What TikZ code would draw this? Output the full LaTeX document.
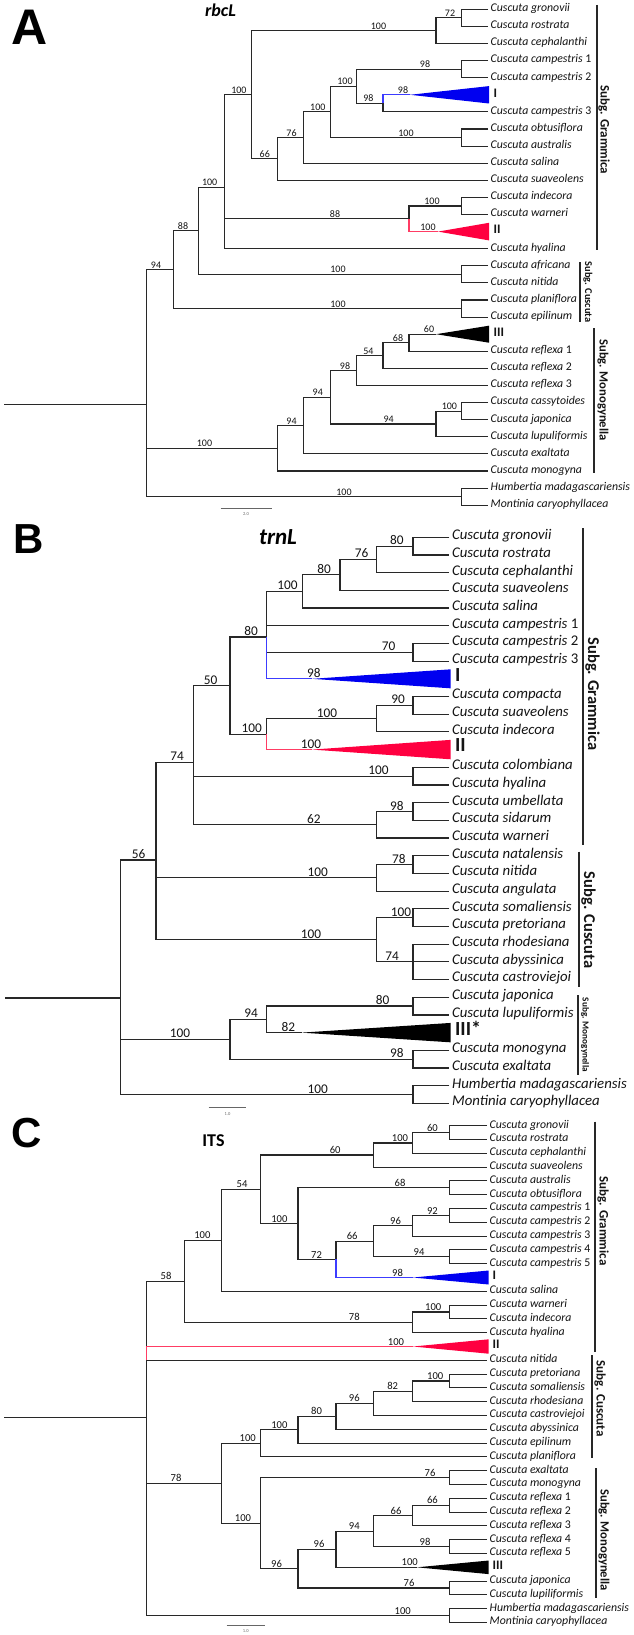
\documentclass[tikz,border=0pt]{standalone}
\usepackage{fontspec}
\setmainfont{Carlito}
\newfontfamily\letfont{Liberation Sans}
\usetikzlibrary{calc}
\definecolor{cblue}{RGB}{0,0,240}
\definecolor{cred}{RGB}{255,0,64}
\definecolor{lblue}{RGB}{60,60,255}
\definecolor{lred}{RGB}{255,60,100}
\definecolor{tcol}{RGB}{20,20,20}
\definecolor{lcol}{RGB}{40,40,40}
\newcommand\tnII[4]{%
  \path let \p1=(#3), \p2=(#4) in coordinate (#1) at (#2pt,{(\y1+\y2)/2});
  \draw[br] (#3) -- (#1 |- #3) -- (#1 |- #4) -- (#4);}
\newcommand\tnIII[5]{%
  \path let \p1=(#3), \p2=(#4), \p3=(#5) in coordinate (#1) at (#2pt,{(\y1+\y2+\y3)/3});
  \draw[br] (#3) -- (#1 |- #3) -- (#1 |- #5) -- (#5) (#1 |- #4) -- (#4);}
\newcommand\tnIV[6]{%
  \path let \p1=(#3), \p2=(#4), \p3=(#5), \p4=(#6) in coordinate (#1) at (#2pt,{(\y1+\y2+\y3+\y4)/4});
  \draw[br] (#3) -- (#1 |- #3) -- (#1 |- #6) -- (#6) (#1 |- #4) -- (#4) (#1 |- #5) -- (#5);}
\newcommand\tnV[7]{%
  \path let \p1=(#3), \p2=(#4), \p3=(#5), \p4=(#6), \p5=(#7) in coordinate (#1) at (#2pt,{(\y1+\y2+\y3+\y4+\y5)/5});
  \draw[br] (#3) -- (#1 |- #3) -- (#1 |- #7) -- (#7) (#1 |- #4) -- (#4) (#1 |- #5) -- (#5) (#1 |- #6) -- (#6);}
\newcommand\bsl[4]{\node[#1] (s#3) at (#2,0 |- #3) {#4};}
\begin{document}
\begin{tikzpicture}[x=1pt,y=-1pt,
  br/.style={line width=1.1pt,draw=lcol},
  txA/.style={anchor=mid west,inner xsep=2.5pt,inner ysep=0pt,text=tcol,font=\fontsize{11.8}{12}\selectfont\itshape},
  trA/.style={anchor=mid west,inner xsep=2.5pt,inner ysep=0pt,xshift=3pt,text=tcol,font=\fontsize{13}{13}\selectfont\bfseries},
  txB/.style={txA,font=\fontsize{14.8}{15}\selectfont\itshape},
  trB/.style={trA,font=\fontsize{20}{20}\selectfont\bfseries},
  txC/.style={txA},
  trC/.style={trA},
  bsA/.style={anchor=south,inner sep=1.2pt,text=tcol,font=\fontsize{10}{10}\selectfont},
  bsB/.style={bsA,font=\fontsize{13.3}{13}\selectfont},
  bsC/.style={bsA,font=\fontsize{10.6}{10}\selectfont},
  panlet/.style={anchor=base west,inner sep=0pt,font=\letfont\fontsize{42}{42}\bfseries\selectfont},
  gene/.style={anchor=base,inner sep=0pt,font=\bfseries\itshape},
  subg/.style={rotate=-90,inner sep=0pt,text=tcol,font=\bfseries},
  sgbar/.style={line width=1.2pt,draw=lcol},
  sbar/.style={line width=0.8pt,draw=black!60},
  sblab/.style={inner sep=0pt,text=black!60,font=\fontsize{4.5}{5}\selectfont},
  bline/.style={line width=1.1pt,draw=lblue},
  rline/.style={line width=1.1pt,draw=lred}]
\fill[white] (0,0) rectangle (633,1635);
\useasboundingbox (0,0) rectangle (633,1635);

%================ PANEL A =================
\node[panlet,font=\letfont\fontsize{50}{50}\bfseries\selectfont] (LA) at (11,45) {A};
\node[gene,font=\fontsize{18}{18}\bfseries\itshape\selectfont] (gA) at (220.5,16.5) {rbcL};
\foreach \sty/\txt [count=\i from 0] in {
txA/Cuscuta gronovii, txA/Cuscuta rostrata, txA/Cuscuta cephalanthi,
txA/Cuscuta campestris \textup{1}, txA/Cuscuta campestris \textup{2}, trA/I,
txA/Cuscuta campestris \textup{3}, txA/Cuscuta obtusiflora, txA/Cuscuta australis,
txA/Cuscuta salina, txA/Cuscuta suaveolens, txA/Cuscuta indecora, txA/Cuscuta warneri,
trA/II, txA/Cuscuta hyalina, txA/Cuscuta africana, txA/Cuscuta nitida,
txA/Cuscuta planiflora, txA/Cuscuta epilinum, trA/III, txA/Cuscuta reflexa \textup{1},
txA/Cuscuta reflexa \textup{2}, txA/Cuscuta reflexa \textup{3}, txA/Cuscuta cassytoides,
txA/Cuscuta japonica, txA/Cuscuta lupuliformis, txA/Cuscuta exaltata,
txA/Cuscuta monogyna, txA/Humbertia madagascariensis, txA/Montinia caryophyllacea}
{\node[\sty] (a\i) at (488,9.3+17.1*\i) {\txt};}
\coordinate (tAI) at (410,0 |- a5.mid west);
\fill[cblue] (tAI) -- ++(79,-8.7) -- ++(0,17.4) -- cycle;
\coordinate (tAII) at (438,0 |- a13.mid west);
\fill[cred] (tAII) -- ++(51,-8.8) -- ++(0,17.6) -- cycle;
\coordinate (tAIII) at (436,0 |- a19.mid west);
\fill[black] (tAIII) -- ++(53,-8.5) -- ++(0,17) -- cycle;

\tnII{A72}{461.5}{a0.mid west}{a1.mid west}
\tnII{A100g}{436}{A72}{a2.mid west}
\tnII{A98a}{461.5}{a3.mid west}{a4.mid west}
\tnII{A98b}{383}{tAI}{a6.mid west}
\tnII{A100e}{356.3}{A98a}{A98b}
\tnII{A100o}{461.5}{a7.mid west}{a8.mid west}
\tnII{A100d}{330.8}{A100e}{A100o}
\tnII{A76}{303.6}{A100d}{a9.mid west}
\tnII{A66}{277.7}{A76}{a10.mid west}
\tnII{A100c}{251.8}{A100g}{A66}
\tnII{A100iw}{461.5}{a11.mid west}{a12.mid west}
\tnII{A88b}{409}{A100iw}{tAII}
\tnIII{A100b}{224.7}{A100c}{A88b}{a14.mid west}
\tnII{A100an}{461.5}{a15.mid west}{a16.mid west}
\tnII{A100a}{198.4}{A100b}{A100an}
\tnII{A100pe}{461.5}{a17.mid west}{a18.mid west}
\tnII{A88}{173.3}{A100a}{A100pe}
\tnII{AP}{409}{tAIII}{a20.mid west}
\tnII{AQ}{383}{AP}{a21.mid west}
\tnII{AR}{356.3}{AQ}{a22.mid west}
\tnII{A100cj}{461.5}{a23.mid west}{a24.mid west}
\tnII{Acass}{436}{A100cj}{a25.mid west}
\tnII{AS}{330.8}{AR}{Acass}
\tnII{AT}{303.6}{AS}{a26.mid west}
\tnII{AU}{277.3}{AT}{a27.mid west}
\tnII{AOut}{461.5}{a28.mid west}{a29.mid west}
\tnIII{ARoot}{146.6}{A88}{AU}{AOut}
\coordinate (AStem) at (4,0 |- ARoot);
\draw[br] (AStem) -- (ARoot);
\draw[bline] (A98b) -- (A98b |- tAI) -- (tAI);
\draw[rline] (A88b) -- (A88b |- tAII) -- (tAII);

\bsl{bsA}{450}{A72}{72}
\bsl{bsA}{378.5}{A100g}{100}
\bsl{bsA}{425}{A98a}{98}
\bsl{bsA}{368.4}{A98b}{98}
\bsl{bsA}{403}{tAI}{98}
\bsl{bsA}{345}{A100e}{100}
\bsl{bsA}{406}{A100o}{100}
\bsl{bsA}{317.8}{A100d}{100}
\bsl{bsA}{291.5}{A76}{76}
\bsl{bsA}{264.8}{A66}{66}
\bsl{bsA}{238.9}{A100c}{100}
\bsl{bsA}{432}{A100iw}{100}
\bsl{bsA}{335}{A88b}{88}
\bsl{bsA}{428}{tAII}{100}
\bsl{bsA}{209.7}{A100b}{100}
\bsl{bsA}{338}{A100an}{100}
\bsl{bsA}{183}{A100a}{88}
\bsl{bsA}{338}{A100pe}{100}
\bsl{bsA}{156}{A88}{94}
\bsl{bsA}{398}{AP}{68}
\bsl{bsA}{429}{tAIII}{60}
\bsl{bsA}{368.4}{AQ}{54}
\bsl{bsA}{345}{AR}{98}
\bsl{bsA}{449.4}{A100cj}{100}
\bsl{bsA}{388.7}{Acass}{94}
\bsl{bsA}{317.8}{AS}{94}
\bsl{bsA}{291.5}{AT}{94}
\bsl{bsA}{204.5}{AU}{100}
\bsl{bsA}{344}{AOut}{100}

\draw[sgbar] (597,5) -- (597,250);
\node[subg,font=\fontsize{13}{13}\bfseries\selectfont] (sgA1) at (604,130) {Subg. Grammica};
\draw[sgbar] (580,262) -- (580,322);
\node[subg,font=\fontsize{10.4}{10}\bfseries\selectfont] (sgA2) at (588,292) {Subg. Cuscuta};
\draw[sgbar] (594,328) -- (594,473);
\node[subg,font=\fontsize{12.6}{13}\bfseries\selectfont] (sgA3) at (603,390) {Subg. Monogynella};

\coordinate (sbA1) at (220.6,508); \coordinate (sbA2) at (272,508);
\draw[sbar] (sbA1) -- (sbA2);
\node[sblab] (sbAl) at (246,514) {2.0};

%================ PANEL B =================
\tikzset{br/.style={line width=1.2pt,draw=lcol}}
\node[panlet] (LB) at (13,553) {B};
\node[gene,font=\fontsize{23}{23}\bfseries\itshape\selectfont] (gB) at (278,544) {trnL};
\foreach \sty/\txt [count=\i from 0] in {
txB/Cuscuta gronovii, txB/Cuscuta rostrata, txB/Cuscuta cephalanthi, txB/Cuscuta suaveolens,
txB/Cuscuta salina, txB/Cuscuta campestris \textup{1}, txB/Cuscuta campestris \textup{2},
txB/Cuscuta campestris \textup{3}, trB/I, txB/Cuscuta compacta, txB/Cuscuta suaveolens,
txB/Cuscuta indecora, trB/II, txB/Cuscuta colombiana, txB/Cuscuta hyalina,
txB/Cuscuta umbellata, txB/Cuscuta sidarum, txB/Cuscuta warneri, txB/Cuscuta natalensis,
txB/Cuscuta nitida, txB/Cuscuta angulata, txB/Cuscuta somaliensis, txB/Cuscuta pretoriana,
txB/Cuscuta rhodesiana, txB/Cuscuta abyssinica, txB/Cuscuta castroviejoi,
txB/Cuscuta japonica, txB/Cuscuta lupuliformis, trB/III*, txB/Cuscuta monogyna,
txB/Cuscuta exaltata, txB/Humbertia madagascariensis, txB/Montinia caryophyllacea}
{\node[\sty] (b\i) at (449.4,537.3+17.69*\i) {\txt};}
\coordinate (tBI) at (312,0 |- b8.mid west);
\fill[cblue] (tBI) -- ++(138.6,-9.5) -- ++(0,19) -- cycle;
\coordinate (tBII) at (312,0 |- b12.mid west);
\fill[cred] (tBII) -- ++(138.6,-9.7) -- ++(0,19.4) -- cycle;
\coordinate (tBIII) at (301.6,0 |- b28.mid west);
\fill[black] (tBIII) -- ++(149,-9.7) -- ++(0,19.4) -- cycle;

\tnII{B80a}{413}{b0.mid west}{b1.mid west}
\tnII{B76}{376.5}{B80a}{b2.mid west}
\tnII{B80b}{340}{B76}{b3.mid west}
\tnII{B100a}{302.8}{B80b}{b4.mid west}
\tnII{B70}{413}{b6.mid west}{b7.mid west}
\tnIV{B80c}{266.4}{B100a}{b5.mid west}{B70}{tBI}
\tnII{B90}{413}{b9.mid west}{b10.mid west}
\tnII{B100c}{376.5}{B90}{b11.mid west}
\tnII{B100b}{266.4}{B100c}{tBII}
\tnII{B50}{230}{B80c}{B100b}
\tnII{B100ch}{413}{b13.mid west}{b14.mid west}
\tnII{B98}{413}{b15.mid west}{b16.mid west}
\tnII{B62}{376.5}{B98}{b17.mid west}
\tnIII{B74}{193.5}{B50}{B100ch}{B62}
\tnII{B78}{413}{b18.mid west}{b19.mid west}
\tnII{B100n}{376.5}{B78}{b20.mid west}
\tnII{B100sp}{413}{b21.mid west}{b22.mid west}
\tnIII{B74b}{413}{b23.mid west}{b24.mid west}{b25.mid west}
\tnII{B100s}{376.5}{B100sp}{B74b}
\tnIII{B56}{155.9}{B74}{B100n}{B100s}
\tnII{B80j}{413}{b26.mid west}{b27.mid west}
\tnII{B94}{266.4}{B80j}{tBIII}
\tnII{B98m}{413}{b29.mid west}{b30.mid west}
\tnII{B100m}{230}{B94}{B98m}
\tnII{BOut}{413}{b31.mid west}{b32.mid west}
\tnIII{BRoot}{120.2}{B56}{B100m}{BOut}
\coordinate (BStem) at (5,0 |- BRoot);
\draw[br] (BStem) -- (BRoot);
\draw[bline,line width=1.2pt] (B80c) -- (B80c |- tBI) -- (tBI);
\draw[rline,line width=1.2pt] (B100b) -- (B100b |- tBII) -- (tBII);

\bsl{bsB}{396.8}{B80a}{80}
\bsl{bsB}{361.5}{B76}{76}
\bsl{bsB}{324}{B80b}{80}
\bsl{bsB}{287.4}{B100a}{100}
\bsl{bsB}{388.7}{B70}{70}
\bsl{bsB}{251}{B80c}{80}
\bsl{bsB}{313.8}{tBI}{98}
\bsl{bsB}{398}{B90}{90}
\bsl{bsB}{327}{B100c}{100}
\bsl{bsB}{251.8}{B100b}{100}
\bsl{bsB}{311}{tBII}{100}
\bsl{bsB}{210.5}{B50}{50}
\bsl{bsB}{378.5}{B100ch}{100}
\bsl{bsB}{396.8}{B98}{98}
\bsl{bsB}{313.8}{B62}{62}
\bsl{bsB}{177}{B74}{74}
\bsl{bsB}{398.8}{B78}{78}
\bsl{bsB}{317.8}{B100n}{100}
\bsl{bsB}{401}{B100sp}{100}
\bsl{bsB}{392}{B74b}{74}
\bsl{bsB}{311}{B100s}{100}
\bsl{bsB}{138.5}{B56}{56}
\bsl{bsB}{382.6}{B80j}{80}
\bsl{bsB}{251}{B94}{94}
\bsl{bsB}{288.3}{tBIII}{82}
\bsl{bsB}{396.8}{B98m}{98}
\bsl{bsB}{180}{B100m}{100}
\bsl{bsB}{317.8}{BOut}{100}

\draw[sgbar] (583,528) -- (583,845);
\node[subg,font=\fontsize{16.5}{17}\bfseries\selectfont] (sgB1) at (592.5,694) {Subg. Grammica};
\draw[sgbar] (579,851.7) -- (579,986.7);
\node[subg,font=\fontsize{16.5}{17}\bfseries\selectfont] (sgB2) at (588.5,920) {Subg. Cuscuta};
\draw[sgbar] (578,995) -- (578,1075);
\node[subg,font=\fontsize{9.2}{9}\bfseries\selectfont] (sgB3) at (585,1035) {Subg. Monogynella};

\coordinate (sbB1) at (208.5,1107.5); \coordinate (sbB2) at (245.7,1107.5);
\draw[sbar] (sbB1) -- (sbB2);
\node[sblab] (sbBl) at (227.5,1114) {1.0};

%================ PANEL C =================
\tikzset{br/.style={line width=1.1pt,draw=lcol}}
\node[panlet] (LC) at (11,1147) {C};
\node[gene,font=\fontsize{18}{18}\bfseries\selectfont] (gC) at (213.5,1146) {ITS};
\foreach \sty/\txt [count=\i from 0] in {
txC/Cuscuta gronovii, txC/Cuscuta rostrata, txC/Cuscuta cephalanthi, txC/Cuscuta suaveolens,
txC/Cuscuta australis, txC/Cuscuta obtusiflora, txC/Cuscuta campestris \textup{1},
txC/Cuscuta campestris \textup{2}, txC/Cuscuta campestris \textup{3},
txC/Cuscuta campestris \textup{4}, txC/Cuscuta campestris \textup{5}, trC/I,
txC/Cuscuta salina, txC/Cuscuta warneri, txC/Cuscuta indecora, txC/Cuscuta hyalina,
trC/II, txC/Cuscuta nitida, txC/Cuscuta pretoriana, txC/Cuscuta somaliensis,
txC/Cuscuta rhodesiana, txC/Cuscuta castroviejoi, txC/Cuscuta abyssinica,
txC/Cuscuta epilinum, txC/Cuscuta planiflora, txC/Cuscuta exaltata, txC/Cuscuta monogyna,
txC/Cuscuta reflexa \textup{1}, txC/Cuscuta reflexa \textup{2}, txC/Cuscuta reflexa \textup{3},
txC/Cuscuta reflexa \textup{4}, txC/Cuscuta reflexa \textup{5}, trC/III,
txC/Cuscuta japonica, txC/Cuscuta lupiliformis, txC/Humbertia madagascariensis,
txC/Montinia caryophyllacea}
{\node[\sty] (c\i) at (487,1125.7+13.8*\i) {\txt};}
\coordinate (tCI) at (413,0 |- c11.mid west);
\fill[cblue] (tCI) -- ++(75.7,-7) -- ++(0,14) -- cycle;
\coordinate (tCII) at (413,0 |- c16.mid west);
\fill[cred] (tCII) -- ++(75.7,-7.2) -- ++(0,14.4) -- cycle;
\coordinate (tCIII) at (417,0 |- c32.mid west);
\fill[black] (tCIII) -- ++(71.7,-6.8) -- ++(0,13.6) -- cycle;

\tnII{C60b}{449.4}{c0.mid west}{c1.mid west}
\tnII{C100g}{412.1}{C60b}{c2.mid west}
\tnII{C60}{373.3}{C100g}{c3.mid west}
\tnII{C68}{449.4}{c4.mid west}{c5.mid west}
\tnII{C92}{449.4}{c6.mid west}{c7.mid west}
\tnII{C96}{412.1}{C92}{c8.mid west}
\tnII{C94}{449.4}{c9.mid west}{c10.mid west}
\tnII{C66}{373.3}{C96}{C94}
\tnII{C72}{336}{C66}{tCI}
\tnII{C100b}{298}{C68}{C72}
\tnII{C54}{260.3}{C60}{C100b}
\tnII{C100a}{221.9}{C54}{c12.mid west}
\tnII{C100wi}{449.4}{c13.mid west}{c14.mid west}
\tnII{C78b}{412.1}{C100wi}{c15.mid west}
\tnII{C58}{184.2}{C100a}{C78b}
\tnII{C100pr}{449.4}{c18.mid west}{c19.mid west}
\tnII{C82}{412.1}{C100pr}{c20.mid west}
\tnII{C96c}{373.3}{C82}{c21.mid west}
\tnII{C80}{336}{C96c}{c22.mid west}
\tnII{C100e}{298}{C80}{c23.mid west}
\tnII{C100d}{260.3}{C100e}{c24.mid west}
\tnII{C76a}{449.4}{c25.mid west}{c26.mid west}
\tnII{C66b}{449.4}{c27.mid west}{c28.mid west}
\tnII{C66a}{412.1}{C66b}{c29.mid west}
\tnII{C98}{449.4}{c30.mid west}{c31.mid west}
\tnII{C94c}{373.3}{C66a}{C98}
\tnII{C96e}{336}{C94c}{tCIII}
\tnII{C76b}{449.4}{c33.mid west}{c34.mid west}
\tnII{C96d}{298}{C96e}{C76b}
\tnII{C100f}{260.3}{C76a}{C96d}
\tnII{C78}{221.9}{C100d}{C100f}
\tnII{COut}{449.4}{c35.mid west}{c36.mid west}
\tnV{CRoot}{146.6}{C58}{tCII}{c17.mid west}{C78}{COut}
\coordinate (CStem) at (4,0 |- CRoot);
\draw[br] (CStem) -- (CRoot);
\draw[bline] (C72) -- (C72 |- tCI) -- (tCI);
\draw[rline] (CRoot |- c17.mid west) -- (CRoot |- tCII) -- (tCII);

\bsl{bsC}{432.4}{C60b}{60}
\bsl{bsC}{400}{C100g}{100}
\bsl{bsC}{335.2}{C60}{60}
\bsl{bsC}{400}{C68}{68}
\bsl{bsC}{432.4}{C92}{92}
\bsl{bsC}{395.5}{C96}{96}
\bsl{bsC}{419}{C94}{94}
\bsl{bsC}{352.2}{C66}{66}
\bsl{bsC}{316.6}{C72}{72}
\bsl{bsC}{397.6}{tCI}{98}
\bsl{bsC}{279.4}{C100b}{100}
\bsl{bsC}{242}{C54}{54}
\bsl{bsC}{202.4}{C100a}{100}
\bsl{bsC}{433.2}{C100wi}{100}
\bsl{bsC}{354.3}{C78b}{78}
\bsl{bsC}{166}{C58}{58}
\bsl{bsC}{396}{tCII}{100}
\bsl{bsC}{435.2}{C100pr}{100}
\bsl{bsC}{392.7}{C82}{82}
\bsl{bsC}{354.3}{C96c}{96}
\bsl{bsC}{316.6}{C80}{80}
\bsl{bsC}{279.4}{C100e}{100}
\bsl{bsC}{247.8}{C100d}{100}
\bsl{bsC}{430}{C76a}{76}
\bsl{bsC}{432.4}{C66b}{66}
\bsl{bsC}{396}{C66a}{66}
\bsl{bsC}{425}{C98}{98}
\bsl{bsC}{354.3}{C94c}{94}
\bsl{bsC}{319}{C96e}{96}
\bsl{bsC}{409.7}{tCIII}{100}
\bsl{bsC}{409}{C76b}{76}
\bsl{bsC}{276.5}{C96d}{96}
\bsl{bsC}{243}{C100f}{100}
\bsl{bsC}{176}{C78}{78}
\bsl{bsC}{402.8}{COut}{100}

\draw[sgbar] (595,1121.7) -- (595,1351.7);
\node[subg,font=\fontsize{13}{13}\bfseries\selectfont] (sgC1) at (603,1221) {Subg. Grammica};
\draw[sgbar] (592,1355) -- (592,1458.3);
\node[subg,font=\fontsize{13}{13}\bfseries\selectfont] (sgC2) at (600,1398.7) {Subg. Cuscuta};
\draw[sgbar] (596,1468.3) -- (596,1598.3);
\node[subg,font=\fontsize{12.6}{13}\bfseries\selectfont] (sgC3) at (604,1540) {Subg. Monogynella};

\coordinate (sbC1) at (226.7,1625); \coordinate (sbC2) at (265.2,1625);
\draw[sbar] (sbC1) -- (sbC2);
\node[sblab] (sbCl) at (245.7,1631) {1.0};
\end{tikzpicture}
\end{document}
